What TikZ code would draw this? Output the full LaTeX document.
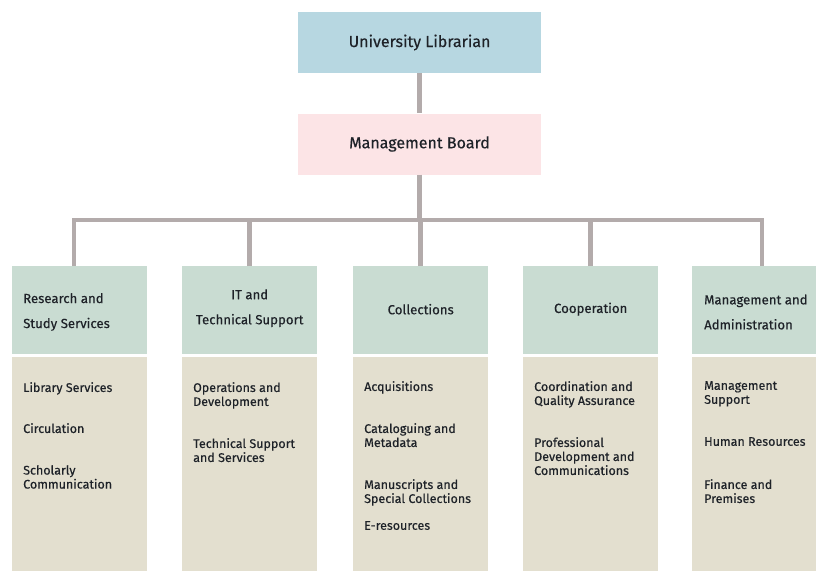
\documentclass[tikz,border=0pt]{standalone}
\usepackage{fontspec}
\setmainfont{Fira Sans}[FakeBold=0.35]
\begin{document}
\begin{tikzpicture}[x=1pt,y=-1pt,
  conn/.style={draw=connc,line width=4.5pt},
  topbox/.style={minimum width=243pt,minimum height=61pt,inner sep=0pt,text=txt,font=\fontsize{16}{18}\selectfont},
  headbox/.style={fill=headc,minimum width=135pt,minimum height=88pt,inner sep=0pt,anchor=north west},
  bodybox/.style={fill=bodyc,minimum width=135pt,minimum height=220pt,inner sep=0pt,anchor=north west},
  htxt/.style={text=txt,font=\fontsize{13.2}{25}\selectfont,inner sep=0pt},
  btxt/.style={text=txt,font=\fontsize{12.5}{14}\selectfont,inner sep=0pt,anchor=north west,align=left}]
\definecolor{connc}{HTML}{B3ABAB}
\definecolor{headc}{HTML}{C9DCD2}
\definecolor{bodyc}{HTML}{E3DFCF}
\definecolor{bluec}{HTML}{B7D7E1}
\definecolor{pinkc}{HTML}{FCE4E6}
\definecolor{txt}{HTML}{1E2228}
\clip (0,0) rectangle (816,570);
\fill[white] (0,0) rectangle (816,570);
% top
\node[topbox,fill=bluec] (ul) at (419.5,42.5) {University Librarian};
\node[topbox,fill=pinkc] (mb) at (419.5,144) {Management Board};
% columns
\foreach \i/\x in {1/12,2/182,3/353,4/523,5/692}{
  \node[headbox] (h\i) at (\x,266) {};
  \node[bodybox] (b\i) at (\x,357) {};
}
% connectors
\coordinate (bus) at (0,220);
\coordinate (d1) at (74,220);
\coordinate (d5) at (762,220);
\draw[conn] (ul.south) -- (mb.north);
\draw[conn] (mb.south) -- (mb.south |- bus);
\draw[conn] (d1 |- h1.north) -- (d1) -- (d5) -- (d5 |- h5.north);
\draw[conn] (h2.north) -- (h2.north |- bus);
\draw[conn] (h3.north) -- (h3.north |- bus);
\draw[conn] (h4.north) -- (h4.north |- bus);
% header texts
\node[htxt,align=left,anchor=west] (t1) at (23,312) {Research and\\Study Services};
\node[htxt,align=center] (t2) at ([yshift=2pt]h2.center) {IT and\\Technical Support};
\node[htxt] (t3) at ([yshift=1pt]h3.center) {Collections};
\node[htxt] (t4) at ([yshift=1pt]h4.center) {Cooperation};
\node[htxt,align=left,anchor=west] (t5) at (704,312) {Management and\\Administration};
% body texts
\node[btxt] (a1) at (23,382) {Library Services};
\node[btxt] (a2) at (23,423) {Circulation};
\node[btxt] (a3) at (23,465) {Scholarly\\Communication};
\node[btxt] (c1) at (193,382) {Operations and\\Development};
\node[btxt] (c2) at (193,438) {Technical Support\\and Services};
\node[btxt] (e1) at (364,381) {Acquisitions};
\node[btxt] (e2) at (364,423) {Cataloguing and\\Metadata};
\node[btxt] (e3) at (364,479) {Manuscripts and\\Special Collections};
\node[btxt] (e4) at (364,521) {E-resources};
\node[btxt] (g1) at (534,381) {Coordination and\\Quality Assurance};
\node[btxt] (g2) at (534,437) {Professional\\Development and\\Communications};
\node[btxt] (k1) at (704,381) {Management\\Support};
\node[btxt] (k2) at (704,437) {Human Resources};
\node[btxt] (k3) at (704,479) {Finance and\\Premises};
\end{tikzpicture}
\end{document}
